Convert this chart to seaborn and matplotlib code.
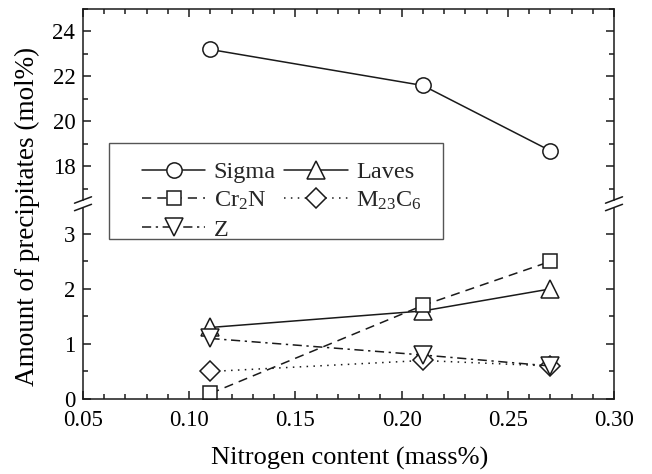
import numpy as np
import pandas as pd
import matplotlib
matplotlib.use("Agg")
import matplotlib.pyplot as plt
import seaborn as sns
from matplotlib.ticker import MultipleLocator, FormatStrFormatter
from matplotlib.patches import Rectangle

# ---- data ----
nitrogen = [0.11, 0.21, 0.27]
sigma = [23.2, 21.6, 18.7]
laves = [1.3, 1.6, 2.0]
cr2n = [0.1, 1.7, 2.5]
m23c6 = [0.5, 0.7, 0.6]
z_phase = [1.1, 0.8, 0.6]

x_ticks = [0.05, 0.10, 0.15, 0.20, 0.25, 0.30]
upper_ticks = [18, 20, 22, 24]
lower_ticks = [0, 1, 2, 3]

sns.set_theme(style="ticks")
plt.rcParams["font.family"] = ["Liberation Serif", "DejaVu Serif"]
plt.rcParams["mathtext.fontset"] = "custom"
plt.rcParams["mathtext.rm"] = "Liberation Serif"
plt.rcParams["mathtext.it"] = "Liberation Serif:italic"
plt.rcParams["mathtext.bf"] = "Liberation Serif:bold"

W, H = 652, 474
fig = plt.figure(figsize=(W / 100, H / 100), dpi=100)

L, R = 83, 614
up_top, up_bot = 9, 200
lo_top, lo_bot = 207.5, 399

def fx(px):
    return px / W

def fy(py):
    return 1 - py / H

ax_up = fig.add_axes([fx(L), fy(up_bot), fx(R) - fx(L), fy(up_top) - fy(up_bot)])
ax_lo = fig.add_axes([fx(L), fy(lo_bot), fx(R) - fx(L), fy(lo_top) - fy(lo_bot)])

ink = "#1a1a1a"
lw = 1.1
mew = 1.1

common = dict(color=ink, linewidth=lw, markerfacecolor="white",
              markeredgecolor=ink, markeredgewidth=mew)

sns.lineplot(x=nitrogen, y=sigma, ax=ax_up, marker="o", markersize=11,
             linestyle="-", label="Sigma", legend=False, **common)
sns.lineplot(x=nitrogen, y=laves, ax=ax_lo, marker="^", markersize=12.5,
             linestyle="-", label="Laves", legend=False, **common)
sns.lineplot(x=nitrogen, y=cr2n, ax=ax_lo, marker="s", markersize=9.5,
             linestyle=(0, (6, 4)), label=r"Cr$_\mathrm{2}$N", legend=False, **common)
sns.lineplot(x=nitrogen, y=m23c6, ax=ax_lo, marker="D", markersize=9.8,
             linestyle=(0, (1, 3.5)), label=r"M$_\mathrm{23}$C$_\mathrm{6}$", legend=False, **common)
sns.lineplot(x=nitrogen, y=z_phase, ax=ax_lo, marker="v", markersize=12.5,
             linestyle=(0, (6, 3, 1.5, 3)), label="Z", legend=False, **common)

for ax in (ax_up, ax_lo):
    ax.set_xlim(0.05, 0.30)
    ax.set_xticks(x_ticks)
    ax.xaxis.set_minor_locator(MultipleLocator(0.01))
    ax.set_xlabel("")
    ax.set_ylabel("")
    for s in ax.spines.values():
        s.set_linewidth(1.1)
        s.set_color(ink)
    ax.tick_params(which="both", direction="in", colors=ink, labelcolor="black",
                   labelsize=16.5, width=1.1)
    ax.tick_params(which="major", length=6)
    ax.tick_params(which="minor", length=3.5)
    ax.tick_params(axis="y", pad=5.5)
    ax.set_facecolor("white")

ax_up.set_ylim(16.51, 25)
ax_up.set_yticks(upper_ticks)
ax_up.yaxis.set_minor_locator(MultipleLocator(1))
ax_up.spines["bottom"].set_visible(False)
ax_up.tick_params(which="both", top=True, bottom=False, right=True, left=True,
                  labelbottom=False)

ax_lo.set_ylim(0, 3.48)
ax_lo.set_yticks(lower_ticks)
ax_lo.yaxis.set_minor_locator(MultipleLocator(0.5))
ax_lo.spines["top"].set_visible(False)
ax_lo.tick_params(which="both", top=False, bottom=True, right=True, left=True)
ax_lo.tick_params(axis="x", pad=8)
ax_lo.xaxis.set_major_formatter(FormatStrFormatter("%.2f"))
ax_lo.yaxis.set_major_formatter(FormatStrFormatter("%d"))
ax_up.yaxis.set_major_formatter(FormatStrFormatter("%d"))

# break marks
dx_px, dy_px = 8.5, 3.2
wpx = R - L
for ax, hpx, ybase in ((ax_up, up_bot - up_top, 0.0), (ax_lo, lo_bot - lo_top, 1.0)):
    dx = dx_px / wpx
    dy = dy_px / hpx
    for xb in (0.0, 1.0):
        ax.plot([xb - dx, xb + dx], [ybase - dy, ybase + dy], transform=ax.transAxes,
                color=ink, linewidth=1.1, clip_on=False)

# axis labels
fig.text(fx(27), fy(216), "Amount of precipitates (mol%)", rotation=90,
         ha="center", va="center", fontsize=19.5, color="black")
fig.text(fx(350), fy(458), "Nitrogen content (mass%)", ha="center", va="center",
         fontsize=19, color="black")

# legend
handles = {}
for ax in (ax_up, ax_lo):
    hs, ls = ax.get_legend_handles_labels()
    for h, l in zip(hs, ls):
        handles[l] = h
order = ["Sigma", r"Cr$_\mathrm{2}$N", "Z", "Laves", r"M$_\mathrm{23}$C$_\mathrm{6}$"]

box = Rectangle((fx(109), fy(239)), fx(443) - fx(109), fy(143) - fy(239),
                transform=fig.transFigure, facecolor="white", edgecolor="#555555",
                linewidth=1.0, zorder=5)
fig.patches.append(box)

leg = fig.legend([handles[k] for k in order], order, loc="upper left",
                 bbox_to_anchor=(fx(142), fy(161)), bbox_transform=fig.transFigure,
                 ncol=2, frameon=False, fontsize=17.5, handlelength=2.6,
                 handletextpad=0.35, columnspacing=0.35, borderpad=0,
                 borderaxespad=0, labelspacing=0.28)
leg.set_zorder(6)

fig.savefig("out.png", dpi=100)
